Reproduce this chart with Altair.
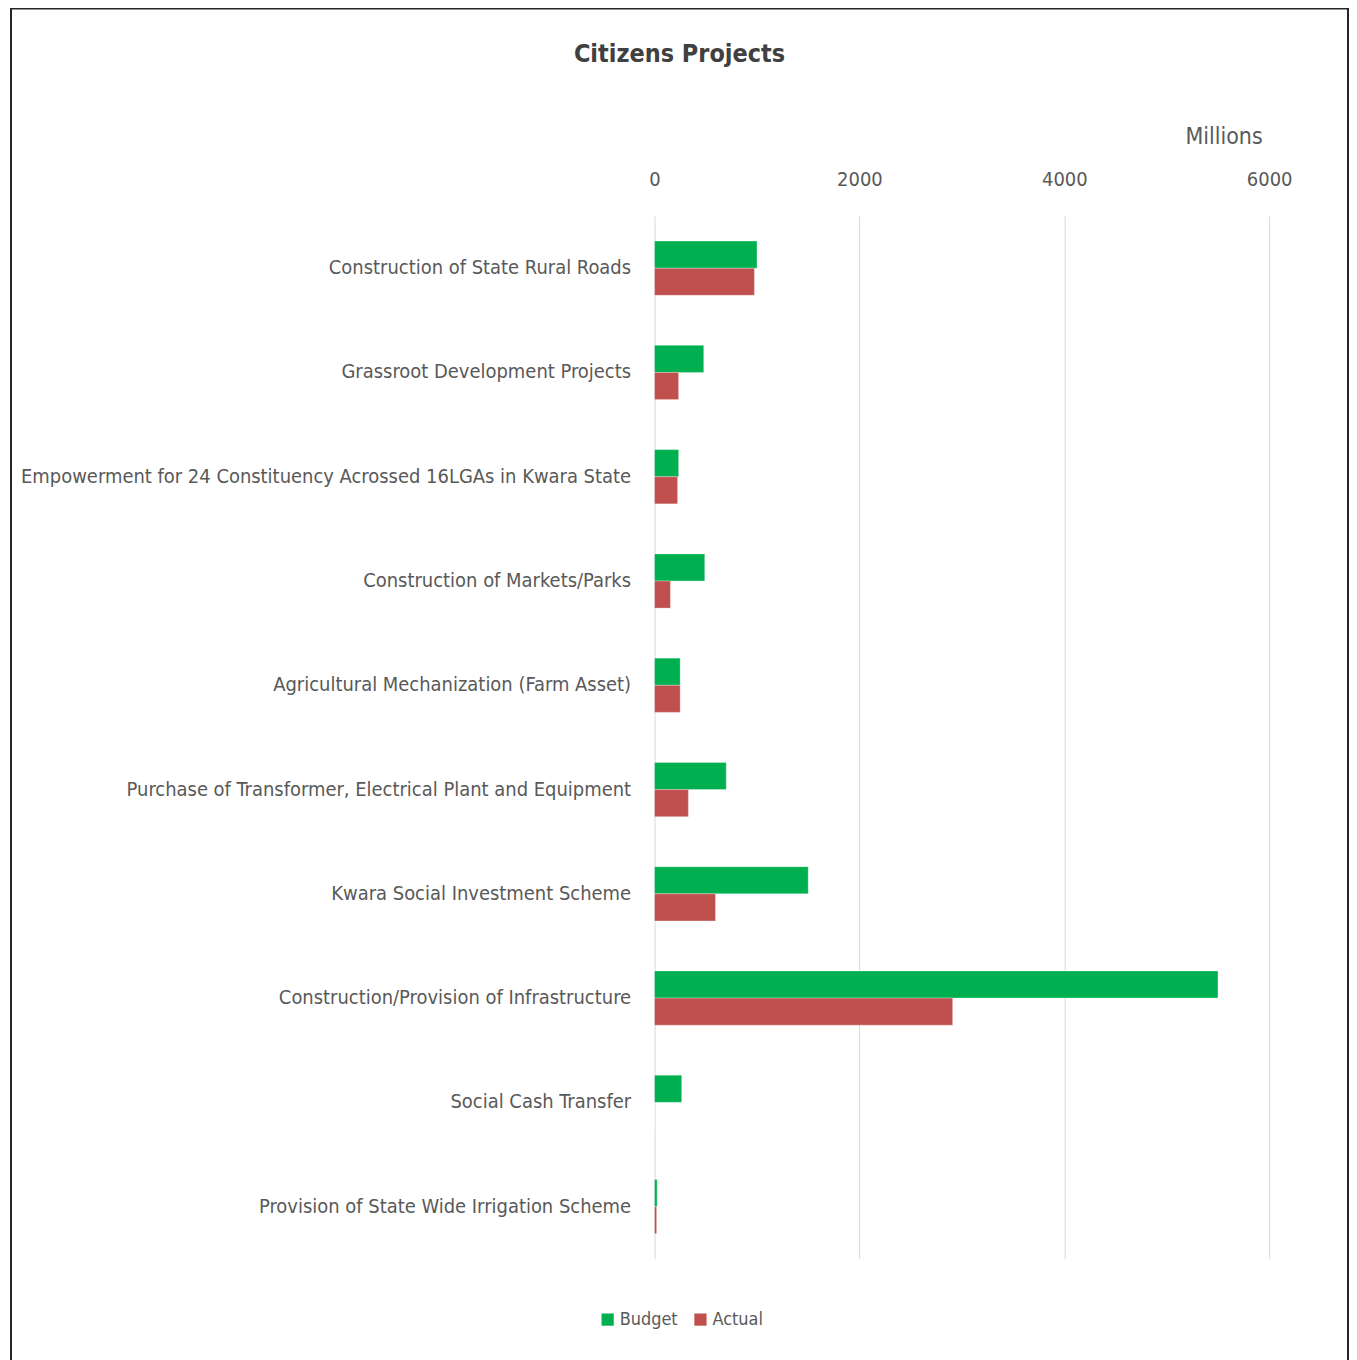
import altair as alt
import pandas as pd

categories = [
    "Construction of State Rural Roads",
    "Grassroot Development Projects",
    "Empowerment for 24 Constituency Acrossed 16LGAs in Kwara State",
    "Construction of Markets/Parks",
    "Agricultural Mechanization (Farm Asset)",
    "Purchase of Transformer, Electrical Plant and Equipment",
    "Kwara Social Investment Scheme",
    "Construction/Provision of Infrastructure",
    "Social Cash Transfer",
    "Provision of State Wide Irrigation Scheme",
]
budget = [1000, 480, 235, 490, 250, 700, 1500, 5500, 265, 25]
actual = [975, 235, 225, 155, 250, 330, 595, 2910, 0, 20]
series = ["Budget", "Actual"]
colors = ["#00B050", "#C0504D"]
x_ticks = [0, 2000, 4000, 6000]

rows = []
for c, b, a in zip(categories, budget, actual):
    rows.append({"Project": c, "Series": "Budget", "Value": b})
    rows.append({"Project": c, "Series": "Actual", "Value": a})
df = pd.DataFrame(rows)

FONT = "DejaVu Sans Condensed, Liberation Sans Narrow, Roboto Condensed, Liberation Sans, sans-serif"
GREY = "#595959"

bars = alt.Chart(df).mark_bar(stroke="#ffffff", strokeWidth=0.5, strokeOpacity=0.6).encode(
    y=alt.Y("Project:N", sort=categories,
            scale=alt.Scale(paddingInner=0.48, paddingOuter=0.24),
            axis=alt.Axis(title=None, ticks=False, domain=False, labelFontSize=20,
                          labelColor=GREY, labelFont=FONT, labelPadding=24, labelLimit=800)),
    yOffset=alt.YOffset("Series:N", sort=series),
    x=alt.X("Value:Q", scale=alt.Scale(domain=[0, 6000]),
            axis=alt.Axis(orient="top", values=x_ticks, format="d", grid=True,
                          gridColor="#D9D9D9", labelFlush=False,
                          domain=False, ticks=False, labelFontSize=20, labelColor=GREY,
                          labelFont=FONT, labelPadding=27,
                          title="Millions", titleFont=FONT, titleFontSize=23,
                          titleFontWeight="normal", titleColor=GREY,
                          titleAlign="right", titleAnchor="end", titleX=609, titleY=-73,
                          titleBaseline="alphabetic")),
    color=alt.Color("Series:N", sort=series,
                    scale=alt.Scale(domain=series, range=colors),
                    legend=alt.Legend(title=None, orient="none", legendX=-56, legendY=1097,
                                      direction="horizontal", symbolType="square",
                                      symbolSize=150, symbolStrokeWidth=0,
                                      labelFontSize=18, labelColor=GREY, labelFont=FONT,
                                      columnPadding=13, labelOffset=3)),
)

border = alt.Chart(pd.DataFrame({"a": [0]})).mark_rect(
    fill=None, filled=False, stroke="#262626", strokeWidth=2
).encode(
    x=alt.value(-645), x2=alt.value(695), y=alt.value(-208), y2=alt.value(1200)
)

chart = alt.layer(border, bars).properties(
    width=616,
    height=1045,
    autosize=alt.AutoSizeParams(type="none"),
    padding={"left": 648, "top": 207, "right": 80, "bottom": 110},
    title=alt.TitleParams(text="Citizens Projects", font=FONT, fontSize=25,
                          fontWeight="bold", color="#404040", anchor="middle",
                          dx=-283, offset=-60),
).configure_view(stroke=None)

chart.save("out.html", embed_options={"renderer": "svg", "actions": False})
